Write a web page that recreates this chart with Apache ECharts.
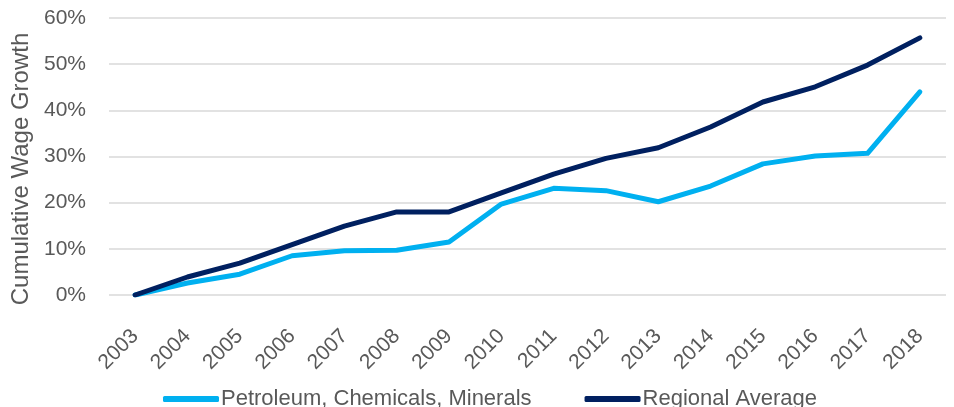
<!DOCTYPE html>
<html>
<head>
<meta charset="utf-8">
<script src="https://cdn.jsdelivr.net/npm/echarts@6/dist/echarts.min.js"></script>
<style>
  html, body { margin: 0; padding: 0; background: #fff; }
  #chart { width: 954px; height: 407px; }
</style>
</head>
<body>
<div id="chart"></div>
<script>
// data
const years = ['2003', '2004', '2005', '2006', '2007', '2008', '2009', '2010',
  '2011', '2012', '2013', '2014', '2015', '2016', '2017', '2018'];
const petroleum = [0, 2.6, 4.5, 8.5, 9.6, 9.7, 11.5, 19.7, 23.1, 22.6, 20.2, 23.6, 28.4, 30.1, 30.7, 44.0];
const regional = [0, 3.9, 6.9, 10.9, 14.9, 18.0, 18.0, 22.1, 26.2, 29.6, 31.9, 36.4, 41.8, 45.1, 49.8, 55.7];
const seriesNames = ['Petroleum, Chemicals, Minerals', 'Regional Average'];

const txt = '#595959';
const font = 'Liberation Sans, Arial, sans-serif';

const chart = echarts.init(document.getElementById('chart'));
chart.setOption({
  animation: false,
  textStyle: { fontFamily: font },
  grid: { left: 109, right: 8, top: 18, bottom: 112 },
  legend: {
    top: 388,
    left: 163,
    padding: 0,
    icon: 'roundRect',
    itemWidth: 56,
    itemHeight: 6,
    itemGap: 53,
    textStyle: { color: txt, fontSize: 22, fontFamily: font, padding: [0, 0, 0, -3] },
    data: seriesNames
  },
  xAxis: {
    type: 'category',
    data: years,
    boundaryGap: true,
    axisLine: { show: false },
    axisTick: { show: false },
    axisLabel: { rotate: 45, color: txt, fontSize: 21, margin: 38, interval: 0 }
  },
  yAxis: {
    type: 'value',
    min: 0,
    max: 60,
    interval: 10,
    name: 'Cumulative Wage Growth',
    nameLocation: 'middle',
    nameGap: 74,
    nameTextStyle: { color: txt, fontSize: 24, padding: [0, 25, 0, 0] },
    axisLine: { show: false },
    axisTick: { show: false },
    axisLabel: { color: txt, fontSize: 21, margin: 23, formatter: '{value}%' },
    splitLine: { lineStyle: { color: '#d9d9d9', width: 1.5 } }
  },
  series: [
    {
      name: seriesNames[0], type: 'line', data: petroleum,
      showSymbol: false, color: '#00b0f0',
      lineStyle: { width: 5, cap: 'round', join: 'round' }
    },
    {
      name: seriesNames[1], type: 'line', data: regional,
      showSymbol: false, color: '#002060',
      lineStyle: { width: 5, cap: 'round', join: 'round' }
    }
  ]
});
</script>
</body>
</html>
